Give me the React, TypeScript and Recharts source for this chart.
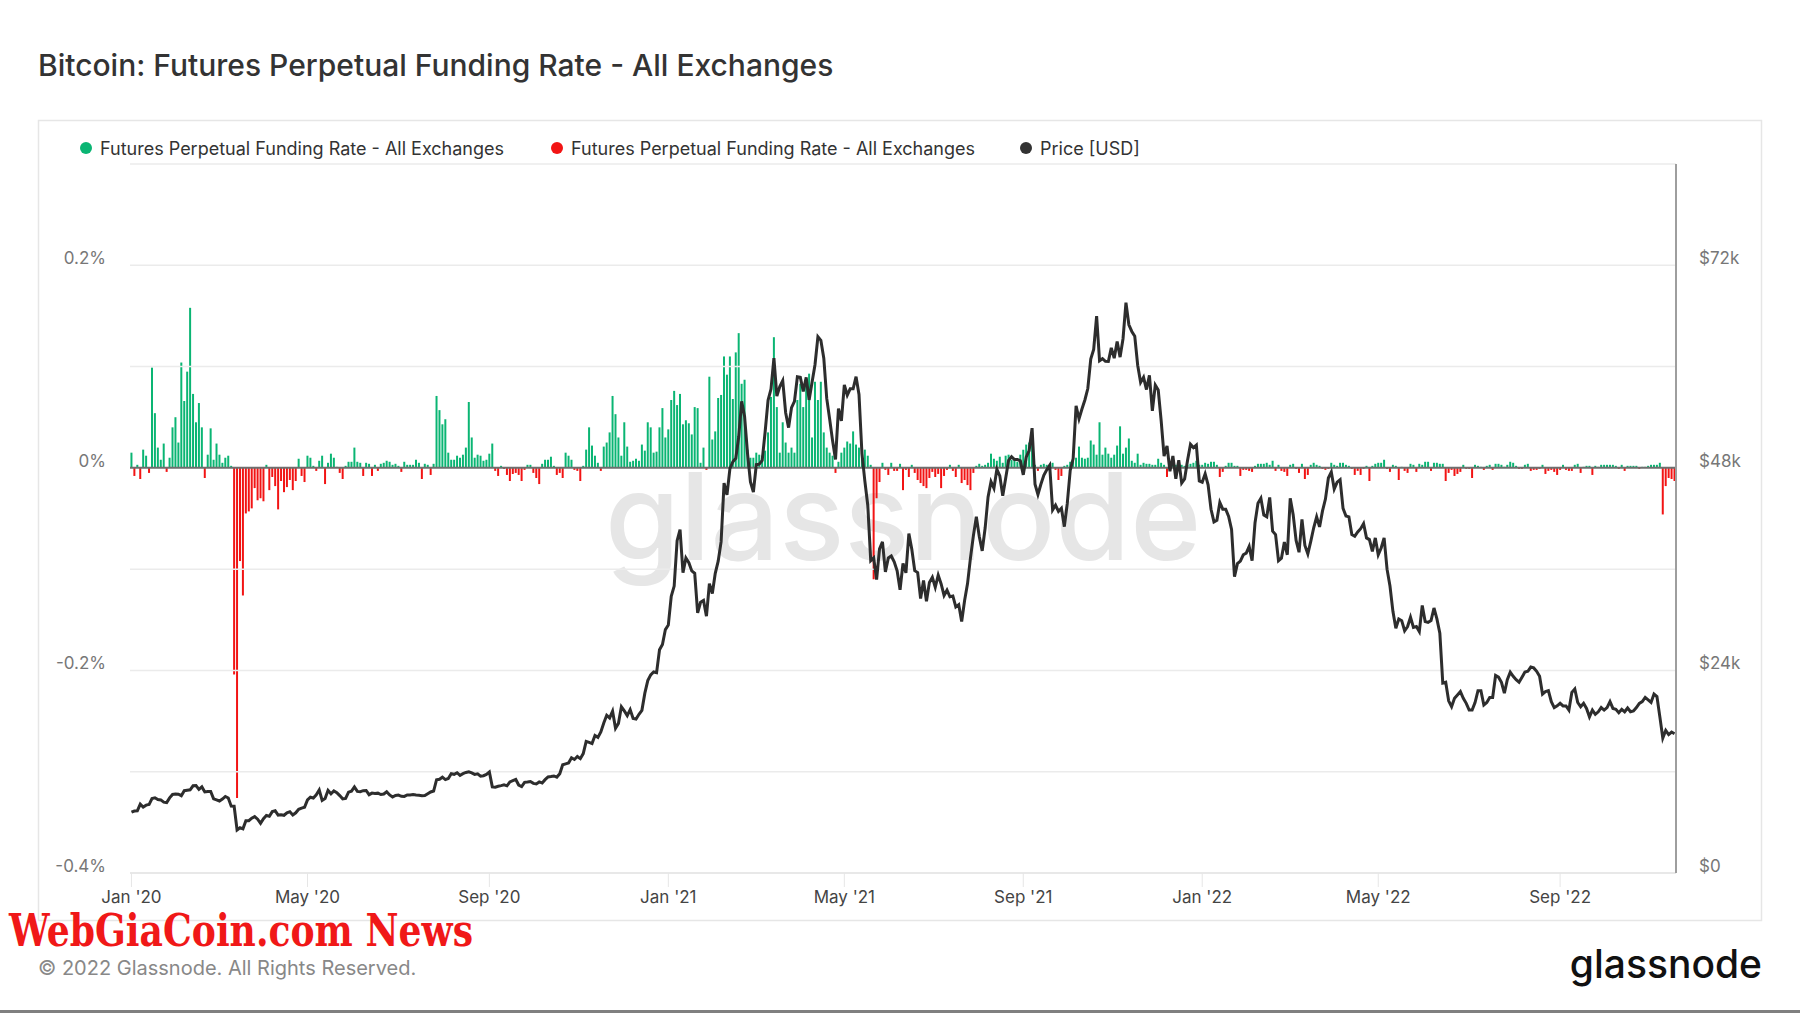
import React from 'react';
import { ComposedChart, Bar, Line, XAxis, YAxis, ReferenceLine } from 'recharts';

// Funding rate (%), one value per 2-day step starting Jan 1 2020
const funding: number[] = [
  0.015, -0.008, 0.003, -0.011, 0.018, 0.012, -0.005, 0.099, 0.054, 0.02,
  0.008, 0.024, -0.004, 0.01, 0.04, 0.05, 0.025, 0.104, 0.066, 0.095,
  0.158, 0.073, 0.045, 0.064, 0.04, -0.01, 0.013, 0.039, 0.008, 0.024,
  0.013, 0.005, 0.01, 0.012, 0.002, -0.204, -0.326, -0.092, -0.126, -0.045,
  -0.043, -0.04, -0.02, -0.032, -0.03, -0.033, 0.003, -0.022, -0.009, -0.018,
  -0.041, -0.013, -0.024, -0.019, -0.012, -0.022, -0.013, 0.009, -0.008, -0.014,
  0.012, 0.01, 0.002, -0.003, 0.007, 0.012, -0.016, 0.005, 0.014, 0.01,
  0.001, -0.005, -0.011, 0.002, 0.006, 0.006, 0.02, 0.006, 0.005, -0.008,
  0.005, 0.004, -0.008, 0.003, -0.003, 0.004, 0.005, 0.007, 0.006, 0.003,
  0.004, 0.002, -0.004, 0.006, 0.003, 0.003, 0.003, 0.008, 0.005, -0.011,
  0.004, 0.003, -0.007, 0.004, 0.071, 0.057, 0.043, 0.048, 0.015, 0.008,
  0.008, 0.012, 0.01, 0.013, 0.02, 0.065, 0.03, 0.01, 0.013, 0.012,
  0.007, 0.008, 0.014, 0.024, -0.003, -0.008, 0.002, -0.001, -0.007, -0.013,
  -0.006, -0.005, -0.007, -0.013, -0.002, 0.003, 0.003, -0.005, -0.01, -0.016,
  0.004, 0.008, 0.008, 0.011, 0.002, -0.007, -0.005, -0.01, 0.015, 0.012,
  0.008, -0.002, -0.003, -0.013, 0.002, 0.018, 0.04, 0.022, 0.012, 0.005,
  -0.003, 0.021, 0.025, 0.035, 0.071, 0.053, 0.03, 0.012, 0.045, 0.021,
  0.006, 0.007, 0.009, 0.007, 0.023, 0.017, 0.045, 0.04, 0.015, 0.016,
  0.04, 0.059, 0.03, 0.038, 0.067, 0.076, 0.062, 0.073, 0.043, 0.047,
  0.044, 0.033, 0.06, 0.059, 0.005, 0.02, -0.002, 0.09, 0.028, 0.036,
  0.069, 0.072, 0.11, 0.092, 0.11, 0.068, 0.114, 0.133, 0.083, 0.087,
  0.018, 0.01, 0.01, 0.015, 0.013, 0.012, 0.017, 0.035, 0.07, 0.129,
  0.06, 0.015, 0.045, 0.025, 0.015, 0.02, 0.015, 0.067, 0.083, 0.06,
  0.083, 0.093, 0.03, 0.085, 0.067, 0.085, 0.035, 0.02, 0.015, 0.012,
  -0.005, 0.006, 0.015, 0.02, 0.026, 0.024, 0.036, 0.023, 0.02, 0.015,
  0.018, 0.012, 0.003, -0.11, -0.03, -0.014, 0.005, -0.002, -0.007, 0.005,
  -0.003, -0.003, 0.004, -0.022, -0.002, -0.009, 0.003, -0.005, -0.012, -0.015,
  -0.018, -0.02, -0.01, -0.004, -0.009, -0.006, -0.02, -0.008, -0.002, 0.003,
  -0.003, -0.009, 0.003, -0.015, -0.012, -0.017, -0.022, -0.005, 0.002, 0.004,
  0.002, 0.003, 0.005, 0.014, 0.009, 0.007, 0.011, 0.005, 0.012, 0.013,
  0.008, 0.008, 0.006, 0.013, 0.018, 0.023, 0.025, 0.033, 0.003, -0.003,
  0.003, 0.004, 0.003, 0.003, 0.005, -0.002, -0.012, -0.008, 0.002, 0.003,
  0.006, 0.007, 0.01, 0.021, 0.01, 0.009, 0.01, 0.027, 0.023, 0.013,
  0.045, 0.013, 0.02, 0.014, 0.01, 0.013, 0.022, 0.041, 0.014, 0.02,
  0.029, 0.007, 0.005, 0.014, 0.003, 0.005, 0.004, 0.004, 0.003, 0.003,
  0.009, 0.005, 0.003, -0.009, 0.003, 0.003, 0.003, 0.002, 0.003, 0.002,
  0.003, 0.004, 0.005, 0.007, 0.003, 0.003, 0.005, 0.004, 0.006, 0.006,
  0.003, -0.009, -0.004, 0.002, 0.005, 0.005, 0.002, 0.002, -0.008, -0.002,
  -0.002, -0.003, -0.004, 0.002, 0.004, 0.004, 0.004, 0.005, 0.003, 0.007,
  -0.003, 0.003, -0.003, -0.004, -0.008, 0.003, 0.004, -0.001, -0.005, 0.004,
  -0.011, -0.007, 0.003, 0.005, 0.003, 0.002, -0.001, -0.002, -0.001, 0.005,
  0.003, 0.002, 0.005, 0.005, 0.003, 0.002, -0.001, -0.007, -0.003, -0.007,
  -0.001, 0.002, -0.013, 0.002, 0.004, 0.005, 0.005, 0.008, -0.001, -0.004,
  0.003, 0.002, -0.012, 0.001, -0.003, -0.005, 0.004, 0.003, -0.004, 0.004,
  0.003, 0.006, 0.006, -0.003, 0.005, 0.005, 0.004, 0.004, -0.013, -0.005,
  -0.002, -0.008, -0.006, -0.004, 0.003, -0.001, -0.001, -0.01, 0.003, 0.002,
  0.001, -0.002, 0.002, 0.003, -0.002, 0.004, 0.004, 0.003, 0.001, 0.003,
  0.006, 0.005, 0.002, -0.001, -0.001, 0.003, 0.004, -0.003, -0.002, -0.002,
  -0.001, 0.003, -0.006, -0.003, -0.002, -0.004, -0.007, -0.002, 0.003, -0.002,
  -0.003, -0.003, 0.003, 0.004, -0.005, 0.001, 0.002, 0.002, -0.007, 0.002,
  0.001, 0.003, 0.003, 0.003, 0.003, 0.003, 0.002, -0.001, 0.003, -0.003,
  0.002, 0.002, 0.002, 0.002, -0.001, 0.001, 0.001, 0.002, 0.003, 0.003,
  0.003, 0.005, -0.046, -0.018, -0.01, -0.011, -0.013,
];

// BTC price (USD), same 2-day steps
const price2020: number[] = [
  7200, 7340, 7360, 8160, 7820, 8040, 8110, 8820, 8910, 8700, 8660, 8390, 8340, 8900, 9310, 9350,
  9340, 9160, 9750, 9810, 9850, 10330, 10360, 9910, 10200, 9610, 9660, 9650, 8790, 8670,
  8530, 8760, 9070, 8890, 7920, 7910, 5100, 5360, 5230, 6190, 6190, 6490, 6680, 6370, 5880, 6440,
  6810, 6730, 7270, 7370, 6860, 6910, 6840, 7120, 7260, 6880, 7130, 7550, 7680, 7790, 8660,
  8980, 8890, 9270, 9840, 8600, 8820, 9790, 9380, 9730, 9520, 9170, 8790, 8840, 9580, 9700,
  10200, 9670, 9630, 9750, 9780, 9280, 9470, 9430, 9460, 9300, 9360, 9630, 9250, 9000, 9190,
  9230, 9090, 9070, 9250, 9240, 9290, 9240, 9200, 9150, 9170, 9390, 9600, 9710, 11050, 11100, 11350,
  11070, 11200, 11760, 11690, 11880, 11570, 11770, 11910, 11990, 11870, 11680, 11750, 11470, 11530, 11680,
  11970, 10200, 10170, 10280, 10350, 10440, 10330, 10800, 10950, 11080, 10420, 10240, 10740, 10780, 10840,
  10620, 10550, 10790, 10670, 11060, 11380, 11430, 11500, 11360, 11750, 12820, 12930, 13030, 13650, 13450, 13800,
  13550, 14150, 15590, 15480, 15330, 16290, 16070, 16720, 17780, 18680, 18370, 19160, 17150, 17730, 19700,
  19200, 18650, 19360, 18320, 18250, 18800, 19270, 21310, 22800, 23480, 23820, 23730, 26440, 27080, 28840,
];
const price2021: number[] = [
  29370, 32780, 33990, 39370, 40670, 35570, 37320, 36770, 35790, 35510, 30820, 32070, 32290, 30430, 34270, 33110,
  35510, 36940, 39260, 46200, 44800, 47910, 48720, 49130, 51680, 55890, 54090, 49710, 46340, 45140,
  48380, 48440, 48880, 52250, 56000, 57330, 61000, 56500, 57640, 58330, 54530, 52770, 55140, 55880, 58790,
  58730, 57060, 58720, 56050, 58140, 60220, 63540, 63110, 60990, 56230, 53770, 51200, 49000, 55020, 53560,
  57830, 56610, 57360, 57360, 58800, 56700, 49720, 46430, 43540, 37000, 37340, 34770, 38400, 39240, 35680, 37330,
  37560, 36860, 35800, 33560, 36690, 35560, 40220, 38350, 35820, 35600, 32510, 34660, 32190, 34430, 35040,
  33850, 35290, 34240, 32880, 33510, 32730, 32820, 31530, 31800, 29790, 32290, 34290, 37340, 39970, 42200,
  39860, 38160, 40870, 44560, 46370, 45590, 47830, 47050, 44700, 46760, 48900, 49330, 48990, 49000, 48830, 47170,
  49270, 50040, 52700, 46070, 44850, 46060, 47110, 47760, 48300, 43010, 43580, 42840, 43210, 41030, 43790,
  47690, 49110, 55360, 53800, 54970, 56040, 57400, 60890, 62030, 65990, 60690, 60930, 60620, 60600, 62210,
  61000, 62970, 61120, 63300, 67570, 64950, 64160, 63600, 60160, 58120, 58730, 57280, 58960, 54760, 57810,
  57230, 53600, 49400, 50600, 47600, 49400, 46700, 48900, 46200, 46700, 48900, 50800, 50400, 50700, 46450, 46300,
];
const price2022: number[] = [
  47300, 46000, 43100, 41600, 41800, 43900, 43100, 43100, 42250, 40700, 35100, 36650, 36950, 37700, 37900,
  38700, 37000, 41500, 43800, 44400, 42400, 42200, 44500, 40500, 40100, 37000, 37300, 39200, 37700,
  44400, 42450, 39400, 38000, 41900, 38800, 37800, 39300, 40900, 42200, 41000, 42900, 44300, 46800, 47500, 45500,
  46300, 46600, 43200, 42300, 42200, 40100, 39900, 40400, 40800, 41400, 39700, 39500, 38100, 39700, 37700,
  38500, 39700, 36000, 34000, 31000, 29000, 30100, 29900, 28700, 29200, 30300, 29100, 29200, 28600, 31700,
  29800, 29700, 29900, 31400, 30100, 28400, 22500, 22600, 20400, 19700, 20700, 21100, 21500, 20700, 20100,
  19300, 19300, 20200, 21600, 21600, 19900, 20200, 20800, 20800, 23400, 23200, 22600, 21300, 22900, 23800, 23300,
  22900, 22600, 23200, 23800, 23900, 24400, 24300, 23900, 23300, 21200, 21500, 21600, 20300, 19600, 19800,
  20100, 19800, 19800, 19300, 21400, 21800, 20200, 19700, 20100, 19500, 18500, 19300, 18800, 19100, 19600,
  19300, 19600, 20300, 19500, 19400, 19000, 19400, 19100, 19550, 19100, 19200, 19600, 20100, 20300, 20800, 20500,
  20200, 21200, 20900, 18500, 16000, 16900, 16400, 16700, 16500,
];
const price: number[] = [...price2020, ...price2021, ...price2022];

const tickDays: number[] = [0, 120, 244, 366, 486, 608, 730, 850, 974];
const tickLabels: string[] = ["Jan '20", "May '20", "Sep '20", "Jan '21", "May '21", "Sep '21", "Jan '22", "May '22", "Sep '22"];
const fundingTicks: number[] = [-0.4, -0.2, 0, 0.2];
const priceTicks: number[] = [0, 24000, 48000, 72000];
const gridValues: number[] = [-0.4, -0.3, -0.2, -0.1, 0.1, 0.2, 0.3];

const legendItems = [
  { label: 'Futures Perpetual Funding Rate - All Exchanges', color: '#0ab573' },
  { label: 'Futures Perpetual Funding Rate - All Exchanges', color: '#f21414' },
  { label: 'Price [USD]', color: '#333333' },
];

const data = funding.map((f, i) => ({
  day: i * 2,
  pos: f > 0 ? f : 0,
  neg: f < 0 ? f : 0,
  price: price[i],
}));

const FONT = 'Inter, "Noto Sans", sans-serif';

const LeftTick = (props: any) => {
  const { x, y, payload } = props;
  return (
    <text x={x} y={y - 7} textAnchor="end" dominantBaseline="central" fill="#777" fontSize={17} fontFamily={FONT}>
      {`${payload.value}%`}
    </text>
  );
};

const RightTick = (props: any) => {
  const { x, y, payload } = props;
  const v = payload.value;
  return (
    <text x={x} y={y - 7} textAnchor="start" dominantBaseline="central" fill="#777" fontSize={17} fontFamily={FONT}>
      {v === 0 ? '$0' : `$${v / 1000}k`}
    </text>
  );
};

const legendX = [86, 557, 1026];

export default function App() {
  return (
    <div style={{ position: 'absolute', left: 0, top: 0, width: 1800, height: 1013, background: '#fff', overflow: 'hidden' }}>
      <svg width={1800} height={1013} style={{ position: 'absolute', left: 0, top: 0 }}>
        <rect x={0} y={0} width={1800} height={1013} fill="#fff" />
        <text x={38} y={76} fontFamily={FONT} fontSize={30} fontWeight={500} fill="#333">
          Bitcoin: Futures Perpetual Funding Rate - All Exchanges
        </text>
        <rect x={38.5} y={120.5} width={1723} height={800} fill="#fff" stroke="#e6e6e6" strokeWidth={1.5} />
        {legendItems.map((it, i) => (
          <g key={i}>
            <circle cx={legendX[i]} cy={148} r={6} fill={it.color} />
            <text x={legendX[i] + 14} y={154.5} fontFamily={FONT} fontSize={18} fill="#333">
              {it.label}
            </text>
          </g>
        ))}
        <text x={605} y={560} fontFamily={FONT} fontSize={121} fontWeight={500} fill="#e6e6e6">
          glassnode
        </text>
        <text x={38} y={975} fontFamily={FONT} fontSize={20} fill="#888">
          © 2022 Glassnode. All Rights Reserved.
        </text>
        <text x={1762} y={978} textAnchor="end" fontFamily={FONT} fontSize={39} fontWeight={500} fill="#111">
          glassnode
        </text>
        <text x={9} y={946} fontFamily='"DejaVu Serif", serif' fontSize={44} fontWeight={700} fill="#f01818"
          textLength={464} lengthAdjust="spacingAndGlyphs">
          WebGiaCoin.com News
        </text>
        <rect x={0} y={1010} width={1800} height={3} fill="#808080" />
      </svg>
      <div style={{ position: 'absolute', left: 0, top: 0 }}>
        <ComposedChart
          width={1800}
          height={1013}
          data={data}
          margin={{ top: 164, right: 34, bottom: 100, left: 40 }}
          barCategoryGap="15%"
          stackOffset="sign"
        >
          <XAxis
            dataKey="day"
            ticks={tickDays}
            interval={0}
            tickFormatter={(v: number) => tickLabels[tickDays.indexOf(v)] ?? ''}
            height={40}
            axisLine={{ stroke: '#e6e6e6', strokeWidth: 1.5 }}
            tickLine={{ stroke: '#e6e6e6', strokeWidth: 1 }}
            tickSize={14}
            tickMargin={4}
            tick={{ fill: '#444', fontSize: 17, fontFamily: FONT }}
          />
          <YAxis
            yAxisId="f"
            domain={[-0.4, 0.3]}
            ticks={fundingTicks}
            interval={0}
            width={90}
            axisLine={false}
            tickLine={false}
            tickSize={6}
            tickMargin={18}
            tick={<LeftTick />}
            allowDataOverflow
          />
          <YAxis
            yAxisId="p"
            orientation="right"
            domain={[0, 84000]}
            ticks={priceTicks}
            interval={0}
            width={90}
            axisLine={{ stroke: '#9e9e9e', strokeWidth: 2 }}
            tickLine={false}
            tickSize={6}
            tickMargin={17}
            tick={<RightTick />}
            allowDataOverflow
          />
          {gridValues.map((g) => (
            <ReferenceLine key={g} yAxisId="f" y={g} stroke="#ebebeb" strokeWidth={1.5} ifOverflow="extendDomain" />
          ))}
          <ReferenceLine yAxisId="f" y={0} stroke="#6e6e6e" strokeWidth={2} />
          <Bar yAxisId="f" dataKey="pos" stackId="fr" fill="#0ab573" isAnimationActive={false} />
          <Bar yAxisId="f" dataKey="neg" stackId="fr" fill="#f21414" isAnimationActive={false} />
          <Line
            yAxisId="p"
            dataKey="price"
            type="linear"
            stroke="#2d2d2d"
            strokeWidth={3}
            dot={false}
            activeDot={false}
            isAnimationActive={false}
          />
        </ComposedChart>
      </div>
    </div>
  );
}
